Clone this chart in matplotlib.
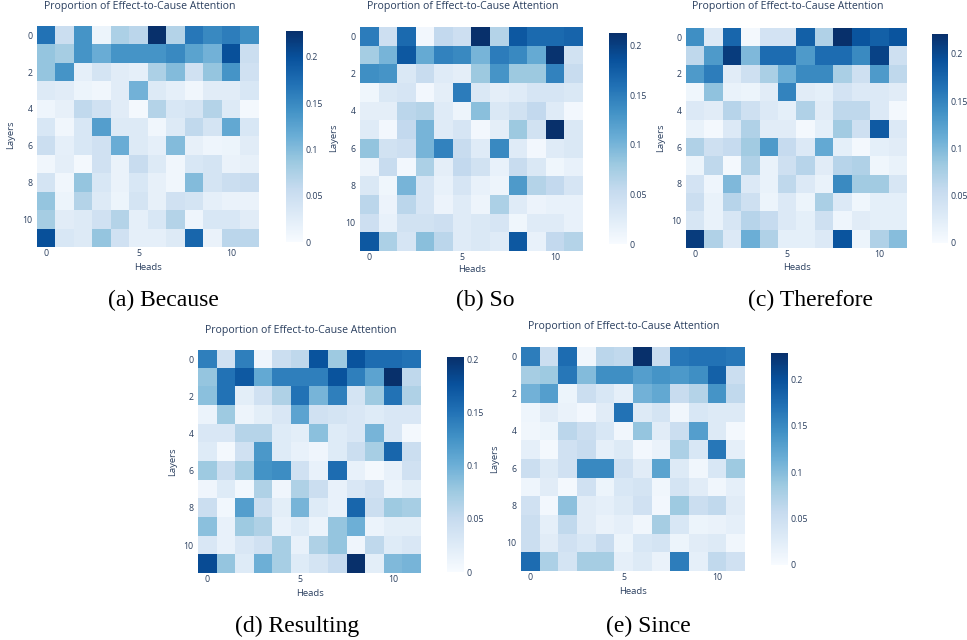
import numpy as np
import matplotlib
matplotlib.use("Agg")
import matplotlib.pyplot as plt

# values (rows = layers 0..11, cols = heads 0..11)
because = [
    [0.170, 0.050, 0.140, 0.012, 0.075, 0.065, 0.228, 0.070, 0.165, 0.150, 0.160, 0.145],
    [0.090, 0.080, 0.140, 0.115, 0.140, 0.140, 0.140, 0.150, 0.125, 0.110, 0.200, 0.050],
    [0.090, 0.140, 0.020, 0.040, 0.025, 0.020, 0.075, 0.100, 0.045, 0.090, 0.140, 0.045],
    [0.030, 0.025, 0.012, 0.008, 0.025, 0.110, 0.030, 0.020, 0.008, 0.025, 0.025, 0.035],
    [0.010, 0.018, 0.060, 0.045, 0.025, 0.005, 0.070, 0.035, 0.040, 0.070, 0.030, 0.005],
    [0.035, 0.008, 0.035, 0.130, 0.030, 0.030, 0.008, 0.030, 0.060, 0.040, 0.120, 0.035],
    [0.050, 0.020, 0.035, 0.045, 0.115, 0.030, 0.020, 0.100, 0.018, 0.010, 0.012, 0.025],
    [0.008, 0.022, 0.005, 0.045, 0.015, 0.055, 0.030, 0.008, 0.035, 0.040, 0.015, 0.018],
    [0.040, 0.008, 0.090, 0.035, 0.015, 0.035, 0.018, 0.008, 0.100, 0.040, 0.050, 0.055],
    [0.090, 0.012, 0.070, 0.030, 0.012, 0.040, 0.018, 0.045, 0.040, 0.020, 0.015, 0.015],
    [0.080, 0.025, 0.030, 0.045, 0.070, 0.020, 0.035, 0.070, 0.010, 0.035, 0.035, 0.025],
    [0.200, 0.035, 0.030, 0.090, 0.045, 0.020, 0.020, 0.030, 0.180, 0.015, 0.065, 0.065],
]
so = [
    [0.150, 0.045, 0.165, 0.005, 0.055, 0.045, 0.213, 0.065, 0.180, 0.165, 0.165, 0.170],
    [0.075, 0.100, 0.180, 0.110, 0.145, 0.140, 0.100, 0.150, 0.140, 0.110, 0.210, 0.040],
    [0.135, 0.130, 0.030, 0.050, 0.025, 0.020, 0.080, 0.130, 0.080, 0.080, 0.145, 0.050],
    [0.008, 0.030, 0.035, 0.005, 0.020, 0.150, 0.030, 0.020, 0.025, 0.035, 0.035, 0.030],
    [0.020, 0.020, 0.060, 0.065, 0.025, 0.010, 0.090, 0.030, 0.040, 0.055, 0.025, 0.005],
    [0.025, 0.005, 0.055, 0.100, 0.025, 0.035, 0.005, 0.020, 0.080, 0.040, 0.213, 0.030],
    [0.085, 0.040, 0.045, 0.100, 0.145, 0.050, 0.025, 0.140, 0.025, 0.005, 0.025, 0.030],
    [0.010, 0.050, 0.005, 0.070, 0.020, 0.055, 0.040, 0.015, 0.050, 0.030, 0.008, 0.015],
    [0.030, 0.008, 0.100, 0.035, 0.015, 0.035, 0.015, 0.010, 0.125, 0.065, 0.055, 0.035],
    [0.060, 0.012, 0.060, 0.035, 0.012, 0.025, 0.010, 0.070, 0.025, 0.012, 0.015, 0.015],
    [0.045, 0.015, 0.040, 0.040, 0.045, 0.025, 0.030, 0.035, 0.008, 0.025, 0.025, 0.015],
    [0.180, 0.070, 0.035, 0.090, 0.060, 0.025, 0.030, 0.025, 0.180, 0.015, 0.055, 0.065],
]
therefore = [
    [0.140, 0.030, 0.175, 0.005, 0.040, 0.040, 0.180, 0.070, 0.221, 0.190, 0.180, 0.190],
    [0.060, 0.130, 0.210, 0.100, 0.170, 0.170, 0.130, 0.170, 0.170, 0.145, 0.205, 0.045],
    [0.130, 0.155, 0.025, 0.045, 0.075, 0.110, 0.145, 0.145, 0.075, 0.045, 0.130, 0.060],
    [0.008, 0.090, 0.015, 0.012, 0.025, 0.150, 0.025, 0.020, 0.040, 0.030, 0.030, 0.025],
    [0.030, 0.025, 0.065, 0.045, 0.030, 0.020, 0.070, 0.025, 0.060, 0.060, 0.030, 0.004],
    [0.015, 0.004, 0.030, 0.070, 0.025, 0.025, 0.005, 0.020, 0.080, 0.045, 0.185, 0.030],
    [0.070, 0.045, 0.055, 0.080, 0.130, 0.055, 0.030, 0.115, 0.020, 0.004, 0.020, 0.025],
    [0.012, 0.060, 0.004, 0.070, 0.015, 0.045, 0.065, 0.025, 0.065, 0.070, 0.008, 0.015],
    [0.040, 0.010, 0.100, 0.030, 0.015, 0.060, 0.030, 0.015, 0.145, 0.080, 0.080, 0.035],
    [0.050, 0.015, 0.065, 0.045, 0.012, 0.030, 0.012, 0.075, 0.030, 0.008, 0.020, 0.020],
    [0.035, 0.015, 0.035, 0.065, 0.055, 0.030, 0.020, 0.045, 0.010, 0.025, 0.020, 0.020],
    [0.210, 0.070, 0.030, 0.110, 0.070, 0.020, 0.020, 0.030, 0.190, 0.012, 0.070, 0.095],
]
resulting = [
    [0.140, 0.040, 0.140, 0.008, 0.045, 0.055, 0.175, 0.075, 0.175, 0.155, 0.155, 0.150],
    [0.080, 0.150, 0.170, 0.105, 0.140, 0.140, 0.140, 0.175, 0.140, 0.110, 0.202, 0.055],
    [0.085, 0.150, 0.020, 0.040, 0.065, 0.150, 0.095, 0.140, 0.035, 0.075, 0.150, 0.065],
    [0.012, 0.075, 0.010, 0.020, 0.030, 0.110, 0.040, 0.035, 0.030, 0.025, 0.030, 0.030],
    [0.030, 0.030, 0.060, 0.060, 0.025, 0.020, 0.085, 0.025, 0.030, 0.095, 0.030, 0.004],
    [0.025, 0.004, 0.040, 0.120, 0.025, 0.015, 0.008, 0.025, 0.045, 0.070, 0.160, 0.045],
    [0.075, 0.045, 0.070, 0.125, 0.130, 0.040, 0.015, 0.155, 0.015, 0.004, 0.015, 0.040],
    [0.008, 0.025, 0.006, 0.065, 0.008, 0.065, 0.045, 0.015, 0.030, 0.040, 0.012, 0.020],
    [0.045, 0.006, 0.115, 0.045, 0.020, 0.095, 0.025, 0.015, 0.160, 0.045, 0.075, 0.070],
    [0.085, 0.015, 0.075, 0.065, 0.015, 0.025, 0.012, 0.080, 0.100, 0.012, 0.020, 0.020],
    [0.030, 0.015, 0.030, 0.040, 0.070, 0.015, 0.065, 0.080, 0.008, 0.055, 0.025, 0.030],
    [0.180, 0.080, 0.025, 0.100, 0.070, 0.025, 0.035, 0.050, 0.202, 0.020, 0.090, 0.095],
]
since = [
    [0.160, 0.050, 0.175, 0.008, 0.065, 0.060, 0.228, 0.055, 0.165, 0.170, 0.170, 0.165],
    [0.080, 0.085, 0.165, 0.100, 0.145, 0.145, 0.130, 0.140, 0.135, 0.145, 0.185, 0.050],
    [0.110, 0.130, 0.012, 0.050, 0.035, 0.020, 0.110, 0.120, 0.055, 0.070, 0.140, 0.060],
    [0.010, 0.025, 0.015, 0.006, 0.025, 0.170, 0.030, 0.040, 0.008, 0.035, 0.030, 0.030],
    [0.008, 0.012, 0.065, 0.050, 0.035, 0.008, 0.090, 0.025, 0.050, 0.130, 0.030, 0.004],
    [0.020, 0.004, 0.045, 0.055, 0.020, 0.030, 0.006, 0.015, 0.075, 0.035, 0.165, 0.020],
    [0.050, 0.030, 0.045, 0.150, 0.150, 0.045, 0.025, 0.125, 0.030, 0.008, 0.035, 0.085],
    [0.010, 0.025, 0.005, 0.045, 0.012, 0.035, 0.040, 0.008, 0.040, 0.025, 0.008, 0.020],
    [0.045, 0.006, 0.095, 0.025, 0.020, 0.030, 0.045, 0.006, 0.085, 0.050, 0.060, 0.025],
    [0.050, 0.020, 0.060, 0.025, 0.015, 0.020, 0.008, 0.080, 0.035, 0.012, 0.015, 0.020],
    [0.050, 0.025, 0.045, 0.035, 0.055, 0.012, 0.035, 0.040, 0.012, 0.025, 0.030, 0.008],
    [0.175, 0.075, 0.040, 0.080, 0.080, 0.020, 0.030, 0.015, 0.160, 0.020, 0.060, 0.045],
]

captions = ["(a) Because", "(b) So", "(c) Therefore", "(d) Resulting", "(e) Since"]
title = "Proportion of Effect-to-Cause Attention"
cbar_ticks = [0, 0.05, 0.1, 0.15, 0.2]
cbar_labels = ["0", "0.05", "0.1", "0.15", "0.2"]

W, H = 967, 640
txt = "#2a3f5f"
plt.rcParams["font.family"] = ["Open Sans", "DejaVu Sans"]

fig = plt.figure(figsize=(W / 100, H / 100), dpi=100)


def box(l, t, w, h):
    return [l / W, 1 - (t + h) / H, w / W, h / H]


def put(x, y, s, **kw):
    fig.text(x / W, 1 - y / H, s, ha="center", va="center", **kw)


# pixel layout of each panel: heatmap box, colorbar box, title/labels/caption centres
panels = [
    dict(data=because, heat=(37, 26, 222, 221), cbar=(286, 31, 17, 211), title=(140, 6),
         heads=(148, 268), layers=(11, 135), cap=(163, 300)),
    dict(data=so, heat=(360, 27, 223, 224), cbar=(609, 33, 18, 211), title=(463, 7),
         heads=(472, 270), layers=(334, 138), cap=(485, 300)),
    dict(data=therefore, heat=(686, 28, 221, 220), cbar=(932, 34, 16, 209), title=(788, 7),
         heads=(797, 268), layers=(661, 138), cap=(810, 300)),
    dict(data=resulting, heat=(198, 350, 223, 223), cbar=(447, 357, 17, 215), title=(301, 331),
         heads=(310, 594), layers=(173, 462), cap=(297, 626)),
    dict(data=since, heat=(521, 347, 224, 224), cbar=(771, 353, 17, 212), title=(624, 327),
         heads=(633, 591), layers=(495, 459), cap=(648, 626)),
]

for p, cap in zip(panels, captions):
    z = np.array(p["data"])
    ax = fig.add_axes(box(*p["heat"]))
    im = ax.imshow(z, cmap="Blues", vmin=0, vmax=z.max(), aspect="auto",
                   interpolation="nearest")
    ax.set_xticks([0, 5, 10])
    ax.set_yticks([0, 2, 4, 6, 8, 10])
    ax.tick_params(axis="x", length=0, labelsize=6.3, labelcolor=txt, pad=1.5)
    ax.tick_params(axis="y", length=0, labelsize=6.3, labelcolor=txt, pad=3)
    for s in ax.spines.values():
        s.set_visible(False)

    cax = fig.add_axes(box(*p["cbar"]))
    cb = fig.colorbar(im, cax=cax)
    cb.outline.set_visible(False)
    cb.set_ticks(cbar_ticks)
    cb.set_ticklabels(cbar_labels)
    cax.tick_params(length=0, labelsize=6.3, labelcolor=txt, pad=2)

    put(*p["title"], title, fontsize=7.6, color=txt)
    put(*p["heads"], "Heads", fontsize=6.8, color=txt)
    put(*p["layers"], "Layers", fontsize=6.8, color=txt, rotation=90)
    put(*p["cap"], cap, fontsize=17, color="black", family="Liberation Serif")

fig.savefig("out.png", dpi=100, facecolor="white")
